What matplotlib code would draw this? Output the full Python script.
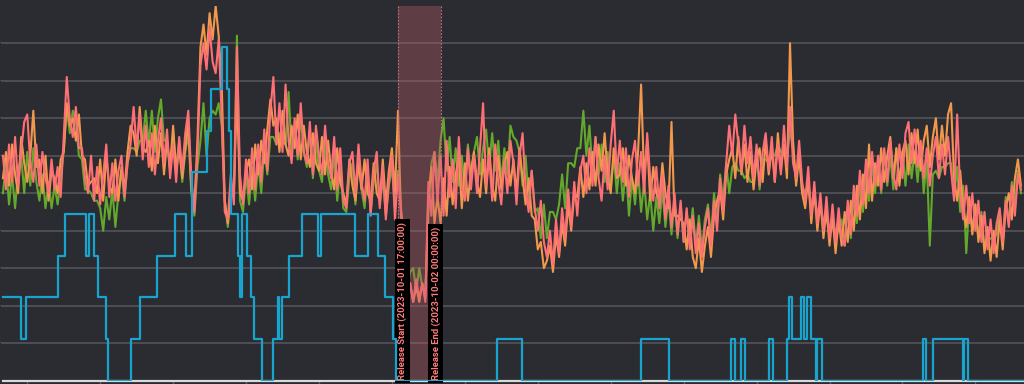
import numpy as np
import pandas as pd
import matplotlib
matplotlib.use("Agg")
import matplotlib.pyplot as plt
import matplotlib.dates as mdates
import matplotlib.transforms as mtransforms

# ---- data (30 min samples, starting 2023-09-29 00:00) ----
start = pd.Timestamp("2023-09-29 00:00")

pink = [
    6.0, 5.1, 6.3, 5.3, 6.5, 5.2, 6.1, 6.9, 7.1, 5.8, 5.3, 6.3,
    5.2, 6.1, 5.4, 5.0, 5.9, 5.1, 5.7, 4.9, 6.5, 8.1, 7.0, 6.5,
    7.3, 6.2, 6.2, 5.4, 5.0, 6.0, 4.8, 5.7, 4.7, 5.5, 6.3, 4.9,
    5.8, 4.8, 5.6, 6.0, 4.9, 5.8, 6.3, 7.3, 6.2, 7.1, 5.9, 6.8,
    5.7, 6.6, 5.5, 6.4, 7.0, 5.8, 6.7, 5.4, 6.3, 5.3, 6.5, 5.6,
    6.6, 7.2, 5.4, 4.5, 6.0, 8.4, 9.0, 8.3, 9.4, 8.5, 8.2, 9.1,
    7.0, 4.5, 4.3, 5.5, 4.7, 8.9, 5.5, 4.7, 5.9, 5.0, 6.2, 5.1,
    6.3, 5.3, 6.7, 5.6, 7.2, 8.1, 6.3, 7.4, 6.1, 7.9, 6.4, 5.8,
    7.0, 6.0, 7.4, 6.1, 5.8, 6.9, 5.5, 6.8, 6.0, 5.5, 6.8, 5.8,
    5.4, 6.5, 5.1, 6.2, 4.8, 4.6, 5.8, 6.1, 5.0, 6.3, 5.3, 4.8,
    5.9, 4.4, 5.6, 6.1, 4.6, 5.7, 4.3, 5.3, 6.0, 4.3, 5.5, 4.5,
    3.8, 2.3, 2.6, 2.1, 2.7, 2.2, 2.6, 2.1, 5.3, 4.4, 6.1, 4.8,
    6.0, 4.4, 6.4, 4.9, 5.9, 4.6, 6.5, 5.2, 4.8, 6.2, 5.1, 6.0,
    5.0, 6.2, 7.4, 5.2, 6.0, 4.8, 6.3, 5.3, 4.7, 5.9, 5.0, 6.4,
    5.8, 4.7, 6.0, 6.6, 5.1, 4.5, 5.6, 4.6, 4.0, 4.8, 3.7, 3.3,
    4.0, 3.1, 4.3, 3.4, 4.6, 3.8, 5.1, 4.1, 5.3, 4.4, 5.6, 6.0,
    5.0, 6.2, 5.2, 6.5, 5.4, 4.8, 6.0, 5.1, 6.3, 7.2, 5.5, 6.4,
    5.3, 6.2, 4.9, 5.9, 6.4, 5.2, 6.1, 5.0, 6.6, 5.4, 4.8, 5.7,
    4.6, 5.5, 4.3, 5.2, 4.1, 5.0, 3.9, 4.8, 3.7, 4.6, 3.5, 4.4,
    3.4, 4.2, 3.3, 4.1, 4.6, 3.6, 4.8, 4.0, 5.4, 4.5, 5.8, 6.8,
    6.0, 7.1, 6.3, 5.6, 6.8, 5.8, 6.5, 5.4, 6.3, 5.2, 6.1, 6.6,
    5.6, 6.5, 5.3, 6.3, 5.5, 6.8, 5.7, 7.3, 5.8, 5.4, 6.4, 5.3,
    4.8, 5.7, 4.4, 5.3, 4.2, 5.0, 4.0, 4.9, 3.8, 4.7, 3.7, 4.6,
    3.8, 3.6, 4.8, 3.9, 5.2, 4.4, 5.6, 4.7, 5.9, 5.0, 6.1, 5.2,
    6.0, 5.1, 6.2, 5.3, 6.4, 5.5, 5.1, 6.3, 5.4, 6.6, 6.9, 5.8,
    6.7, 5.7, 6.4, 5.4, 6.2, 5.2, 6.0, 6.5, 5.4, 6.3, 5.5, 6.5,
    5.6, 4.8, 7.1, 5.0, 4.3, 5.2, 4.2, 5.0, 4.0, 4.8, 3.7, 4.5,
    3.5, 4.3, 3.4, 4.2, 4.6, 3.7, 4.8, 4.1, 5.2, 4.4, 5.5, 5.1,
]

orange = [
    5.4, 6.1, 5.2, 6.3, 5.5, 5.0, 6.5, 5.8, 5.3, 6.0, 7.2, 5.7,
    5.9, 5.0, 6.0, 4.8, 5.6, 5.4, 5.0, 5.9, 6.1, 7.4, 6.8, 7.0,
    6.4, 7.1, 6.0, 5.9, 5.2, 5.3, 5.4, 5.0, 5.9, 4.8, 6.0, 5.2,
    5.0, 5.9, 4.8, 5.7, 5.1, 6.1, 6.8, 6.6, 6.0, 7.3, 6.2, 6.1,
    6.4, 5.6, 6.8, 5.8, 6.6, 5.5, 6.4, 5.7, 6.8, 5.6, 6.2, 5.4,
    6.2, 6.9, 5.1, 4.7, 6.4, 8.9, 9.5, 8.7, 9.8, 9.1, 10.0, 9.2,
    7.9, 4.8, 4.2, 5.1, 5.1, 7.6, 5.0, 4.8, 5.6, 5.9, 5.1, 6.3,
    5.5, 6.4, 5.8, 6.7, 7.5, 6.8, 7.0, 6.1, 7.2, 6.3, 6.0, 6.8,
    6.2, 7.1, 5.9, 6.8, 6.1, 5.7, 6.6, 5.8, 5.6, 6.5, 5.5, 6.4,
    5.6, 5.1, 6.2, 5.3, 5.0, 4.7, 5.9, 5.2, 4.8, 5.8, 5.1, 5.9,
    5.0, 4.8, 5.8, 5.0, 4.8, 5.9, 4.7, 5.6, 6.2, 5.0, 7.2, 4.4,
    3.5, 2.2, 2.6, 2.1, 2.5, 2.1, 2.6, 2.2, 4.9, 5.7, 4.2, 4.9,
    4.2, 5.4, 4.4, 5.7, 4.7, 5.5, 6.0, 4.6, 5.8, 4.8, 5.6, 6.1,
    5.3, 4.9, 5.9, 5.0, 6.2, 5.2, 4.8, 6.0, 5.1, 5.8, 6.1, 5.2,
    5.9, 5.0, 6.2, 5.4, 4.7, 5.4, 4.4, 4.3, 3.5, 3.7, 3.0, 3.2,
    3.6, 2.9, 3.9, 3.3, 4.2, 3.6, 4.7, 4.0, 5.0, 4.9, 5.7, 4.9,
    5.8, 5.1, 6.1, 5.2, 6.3, 5.6, 6.6, 5.5, 5.0, 6.2, 5.4, 5.5,
    6.2, 5.2, 6.0, 5.4, 5.0, 6.1, 7.9, 5.4, 6.4, 4.8, 5.7, 5.0,
    4.8, 5.8, 5.0, 4.6, 6.9, 4.4, 4.4, 4.3, 4.2, 3.5, 4.3, 3.3,
    3.0, 3.8, 2.9, 3.6, 4.1, 3.3, 4.4, 4.8, 5.1, 4.3, 5.5, 5.9,
    6.2, 5.4, 6.5, 5.5, 6.3, 5.3, 6.1, 5.1, 5.9, 6.2, 5.3, 6.4,
    5.5, 6.2, 5.3, 6.6, 5.6, 6.3, 5.4, 9.0, 6.4, 5.2, 6.0, 5.0,
    4.6, 5.4, 4.2, 5.1, 4.0, 4.8, 3.8, 4.6, 3.6, 4.4, 3.4, 4.3,
    3.6, 4.5, 3.7, 4.8, 4.0, 5.2, 4.3, 5.5, 4.6, 6.3, 4.8, 5.8,
    5.2, 6.2, 5.3, 6.0, 6.5, 5.4, 6.2, 5.2, 6.1, 6.4, 5.5, 6.6,
    5.8, 6.7, 5.6, 6.4, 6.8, 5.7, 6.5, 7.0, 5.9, 6.8, 6.0, 7.1,
    7.4, 5.4, 4.8, 5.6, 4.6, 4.1, 4.9, 3.9, 4.7, 3.7, 4.4, 3.4,
    4.1, 3.2, 4.0, 3.3, 4.3, 3.5, 4.6, 5.0, 4.3, 5.4, 5.9, 5.2,
]

green = [
    5.0, 5.8, 4.7, 5.5, 4.6, 5.6, 6.0, 5.0, 6.1, 5.2, 6.2, 5.3,
    4.8, 5.5, 4.6, 5.3, 4.6, 5.2, 4.7, 5.4, 6.1, 7.3, 6.6, 7.2,
    6.9, 6.0, 5.9, 5.1, 5.1, 5.0, 4.8, 4.8, 4.6, 4.0, 4.9, 4.3,
    5.1, 4.1, 5.0, 5.6, 4.8, 5.8, 6.2, 6.2, 6.1, 6.4, 6.4, 7.2,
    6.3, 7.2, 6.1, 7.0, 7.5, 6.4, 6.4, 5.6, 6.6, 5.7, 6.4, 5.3,
    6.1, 6.6, 5.0, 4.4, 5.7, 6.4, 7.4, 6.0, 7.0, 7.2, 7.1, 7.4,
    6.8, 4.8, 4.1, 5.0, 5.0, 9.2, 4.8, 4.5, 5.5, 4.7, 5.7, 4.8,
    5.8, 5.0, 6.2, 5.5, 6.5, 6.5, 6.3, 6.6, 6.4, 6.3, 7.7, 6.1,
    6.8, 5.9, 7.1, 6.1, 5.7, 6.7, 5.4, 6.4, 5.6, 5.3, 6.4, 5.5,
    5.1, 6.1, 4.8, 5.7, 4.6, 4.5, 5.4, 5.8, 4.7, 6.0, 5.1, 4.6,
    5.6, 4.5, 5.3, 5.8, 4.7, 5.4, 4.4, 5.2, 5.7, 4.6, 5.6, 4.6,
    3.8, 2.5, 2.9, 3.0, 2.4, 3.0, 2.5, 2.4, 4.4, 5.8, 6.1, 5.3,
    6.4, 7.0, 5.6, 6.5, 5.3, 6.2, 5.2, 6.0, 5.0, 6.3, 5.4, 6.1,
    6.5, 5.5, 6.2, 6.7, 5.7, 6.6, 5.6, 6.4, 5.3, 6.2, 5.5, 6.8,
    6.5, 6.4, 6.1, 5.2, 6.0, 4.8, 5.6, 4.5, 4.6, 3.8, 4.7, 3.8,
    4.5, 4.5, 4.3, 4.7, 5.5, 4.6, 5.8, 5.8, 5.7, 6.2, 6.2, 7.2,
    6.0, 6.8, 5.6, 6.5, 5.5, 6.3, 5.3, 6.1, 5.1, 6.0, 5.0, 5.8,
    4.8, 5.7, 4.4, 5.4, 4.7, 5.6, 4.5, 5.3, 4.3, 5.0, 4.0, 4.9,
    4.2, 5.1, 4.1, 4.9, 3.9, 4.8, 3.8, 4.7, 3.7, 4.5, 3.8, 4.6,
    3.6, 4.4, 3.5, 4.3, 4.7, 3.8, 5.0, 4.2, 5.5, 4.8, 5.8, 5.0,
    5.7, 5.8, 5.6, 5.6, 5.4, 5.5, 5.3, 5.3, 6.1, 5.1, 5.9, 5.9,
    5.8, 6.0, 6.0, 6.3, 6.1, 6.1, 5.9, 6.7, 6.2, 5.3, 6.1, 5.0,
    5.1, 5.1, 4.7, 4.8, 4.5, 4.6, 4.2, 4.3, 4.0, 4.1, 3.9, 4.0,
    4.3, 3.6, 4.6, 3.8, 5.0, 4.2, 5.3, 4.5, 5.6, 4.8, 5.8, 5.0,
    5.9, 5.0, 6.1, 5.2, 6.0, 5.1, 6.2, 5.3, 6.1, 5.2, 6.3, 5.4,
    6.1, 5.3, 6.3, 5.0, 5.9, 3.6, 5.5, 5.6, 5.4, 5.7, 5.7, 5.8,
    5.8, 4.9, 5.7, 4.5, 5.2, 3.4, 4.8, 4.0, 4.7, 3.8, 4.5, 3.5,
    3.7, 3.8, 3.8, 3.9, 4.5, 3.7, 4.9, 4.2, 5.3, 4.6, 5.6, 5.0,
]

# step series (right axis): hours since start where the level changes
blue_hours = [0, 2.96, 3.78, 9.05, 10.2, 13.66, 14.15, 14.97, 15.63, 16.95,
              17.28, 21.0, 22.5, 25.4, 28.3, 30.06, 31.15, 33.57, 34.23, 36.04,
              36.86, 37.24, 37.52, 38.72, 39.0, 39.33, 40.10, 40.76, 41.35, 42.57,
              44.38, 45.25, 45.42, 45.91, 47.06, 49.15, 51.88, 52.28, 57.92, 60.11,
              61.76, 62.86, 64.13, 64.62, 81.3, 85.4, 105.0, 109.6, 119.8, 120.5,
              121.4, 122.1, 126.05, 126.7, 128.96, 129.3, 129.8, 131.3, 131.8, 132.3,
              132.9, 133.8, 134.0, 134.8, 151.4, 151.9, 153.0, 157.9, 158.1, 158.8,
              168.0]
blue_levels = [2, 1, 2, 3, 4, 3, 4, 3, 2, 1,
               0, 1, 2, 3, 4, 3, 5, 6, 7, 8,
               7, 6, 4, 3, 2, 4, 3, 2, 1, 0,
               1, 2, 1, 2, 3, 4, 3, 4, 3, 4,
               3, 2, 1, 0, 1, 0, 1, 0, 1, 0,
               1, 0, 1, 0, 1, 2, 1, 2, 1, 2,
               1, 0, 1, 0, 1, 0, 1, 0, 1, 0,
               0]

release_start = pd.Timestamp("2023-10-01 17:00:00")
release_end = pd.Timestamp("2023-10-02 00:00:00")

times = pd.date_range(start, periods=len(pink), freq="30min")
blue_times = start + pd.to_timedelta(blue_hours, unit="h")
x0 = start - pd.Timedelta(minutes=29)
x1 = start + pd.Timedelta(hours=168)

bg = "#2a2c31"
fig = plt.figure(figsize=(10.24, 3.84), dpi=100, facecolor=bg)
ax = fig.add_axes([0, 3.3 / 384, 1, 375 / 384])
ax.set_facecolor(bg)

ax.plot(times, green, color="#64a82c", lw=1.5, zorder=3)
ax.plot(times, orange, color="#f2984c", lw=1.5, zorder=4)
ax.plot(times, pink, color="#ff7076", lw=1.5, zorder=5)

ax.set_ylim(0, 10)
ax.set_xlim(x0, x1)
ax.set_yticks(np.arange(1, 10))
ax.yaxis.grid(True, color="#4f5156", lw=1.3)
ax.set_axisbelow(True)
ax.tick_params(axis="y", left=False, labelleft=False)
ax.set_xticks(pd.date_range("2023-09-29 04:00", periods=14, freq="12h"))
ax.tick_params(axis="x", length=3, width=1, color="#5a5c60", labelbottom=False)
for s in ["top", "left", "right"]:
    ax.spines[s].set_visible(False)
ax.spines["bottom"].set_color("#d9d9d9")
ax.spines["bottom"].set_linewidth(1.6)
ax.spines["bottom"].set_bounds(mdates.date2num(start), mdates.date2num(x1))

# release window
ax.axvspan(release_start, release_end, color="#c0606a", alpha=0.35, lw=0, zorder=8)
for t in [release_start, release_end]:
    ax.axvline(t, color="#c0707a", lw=0.8, ls=(0, (1.5, 1.5)), zorder=9)

trans = mtransforms.blended_transform_factory(ax.transData, ax.transAxes)
box = dict(boxstyle="square,pad=0.3", fc="black", ec="none")
ax.text(release_start, 0.002, "Release Start (2023-10-01 17:00:00)", transform=trans,
        rotation=90, ha="left", va="bottom", fontsize=6.8, fontfamily="Roboto",
        fontweight="bold", color="#ff7b7b", bbox=box, zorder=12)
ax.text(release_end, 0.002, "Release End (2023-10-02 00:00:00)", transform=trans,
        rotation=90, ha="right", va="bottom", fontsize=6.8, fontfamily="Roboto",
        fontweight="bold", color="#ff7b7b", bbox=box, zorder=12)

# step series on its own scale
ax2 = ax.twinx()
ax2.set_ylim(0, 9)
ax2.plot(blue_times, blue_levels, drawstyle="steps-post", color="#19a3cf", lw=1.6, zorder=10)
ax2.set_xlim(x0, x1)
ax2.axis("off")

fig.savefig("out.png", dpi=100, facecolor=bg)
